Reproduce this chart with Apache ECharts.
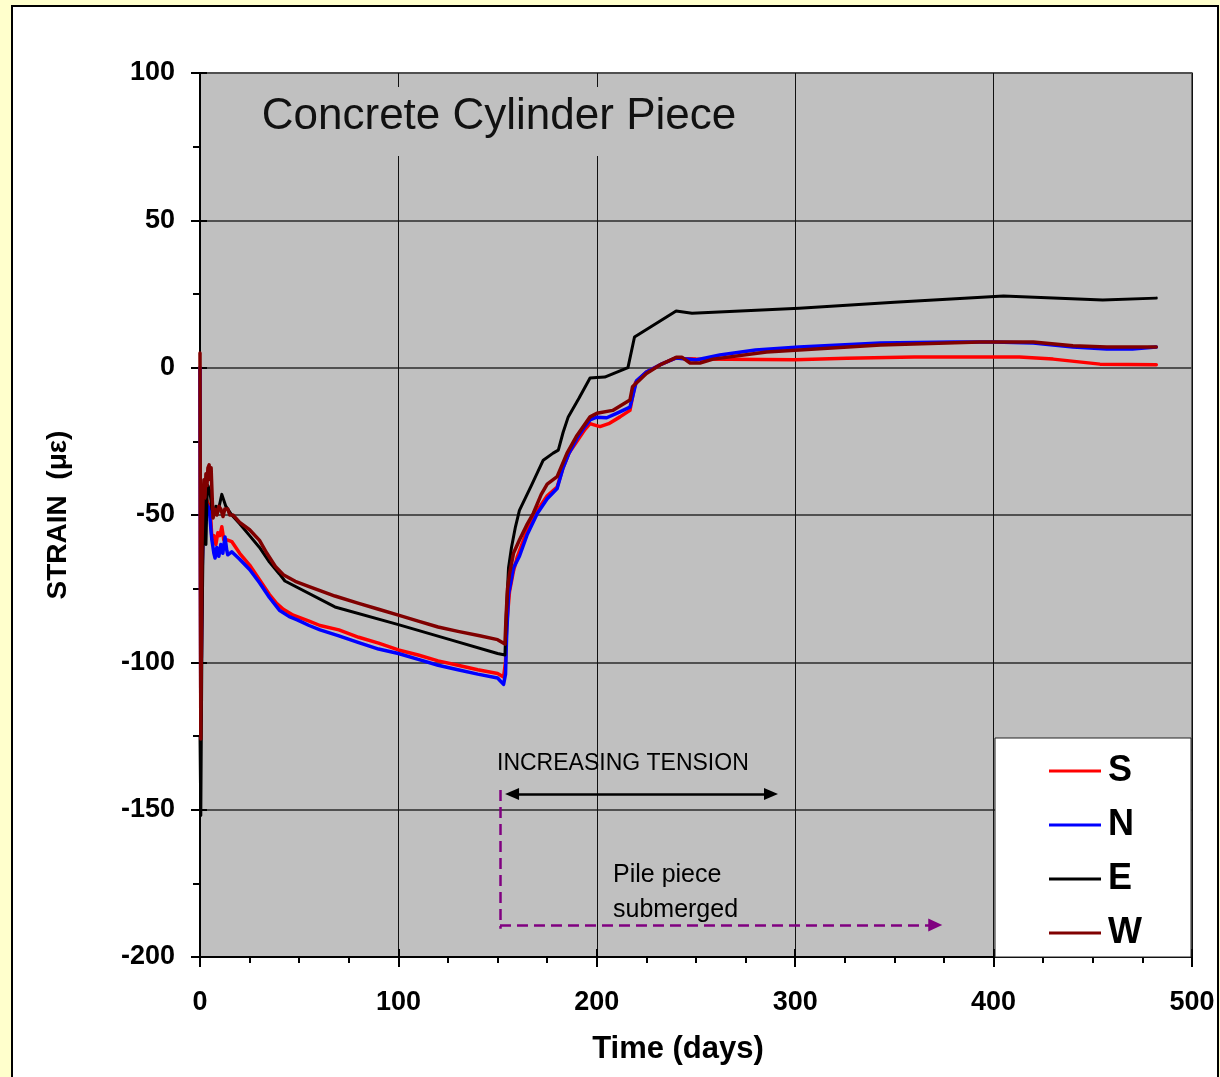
<!DOCTYPE html>
<html>
<head>
<meta charset="utf-8">
<script src="https://cdn.jsdelivr.net/npm/echarts@6/dist/echarts.min.js"></script>
<style>
html, body { margin: 0; padding: 0; background: #FFFFCC; width: 1220px; height: 1077px; overflow: hidden; }
#frame { position: absolute; left: 11px; top: 5px; width: 1204px; height: 1100px; border: 2px solid #000; background: #fff; }
#chart { position: absolute; left: 0; top: 0; width: 1220px; height: 1077px; }
</style>
</head>
<body>
<div id="frame"></div>
<div id="chart"></div>
<script>
// Strain gauge readings, [day, microstrain]
const seriesNames = ['S', 'N', 'E', 'W'];
const seriesColors = ['#FF0000', '#0000FF', '#000000', '#800000'];

const strainS = [
  [0, 0], [0.4, -118], [1, -70], [1.5, -55], [2, -48], [3, -44], [4, -46], [5, -47], [5.5, -52], [6, -58],
  [7, -57], [8, -60], [9, -56], [10, -57], [11, -54], [11.5, -54], [12, -58.5], [14, -58.5], [16, -59],
  [20, -63], [25, -67], [30, -72], [35, -77], [38.6, -80], [42, -82], [47, -84], [55, -86], [60.5, -87.5],
  [70, -89], [80, -91.5], [90, -93.5], [100, -95.8], [110, -97.5], [120, -99.5], [130, -101], [140, -102.5],
  [150, -103.8], [153, -105], [154, -100], [154.5, -88], [156, -76], [158, -69], [160, -64], [165, -55],
  [170, -48.5], [175, -43.5], [180, -40.5], [183, -34], [186, -29], [190, -25], [194, -21], [196.6, -19],
  [199, -19.5], [201.6, -20], [206, -19], [211.7, -16.7], [216.7, -14.5], [218, -10], [219.5, -5], [225, -1.5],
  [232, 1], [240, 3.3], [244, 3.1], [250, 2.9], [300, 2.7], [326, 3.2], [360, 3.6], [413, 3.6], [430, 2.9],
  [453.6, 1.2], [482, 1]
];

const strainN = [
  [0, 0], [0.4, -120], [1, -72], [1.5, -56], [2, -50], [3, -46], [4, -47], [4.7, -48], [5.5, -55], [6, -58.5],
  [7, -63], [7.6, -64.6], [8.5, -61], [9.5, -64], [10.5, -60], [11.5, -63], [12.6, -57.5], [13.5, -62], [14, -63.5],
  [16, -62.5], [20, -65], [25, -68.5], [30, -73], [35, -78], [40, -82.3], [45, -84.5], [49, -85.6], [55, -87.5],
  [60.5, -89], [70, -91], [80, -93.3], [90, -95.5], [100, -97], [110, -99], [120, -101], [130, -102.5],
  [140, -104], [150, -105.3], [153, -107.5], [154, -104], [154.5, -92], [155.5, -77], [158, -68], [161, -64],
  [165, -56.5], [170, -49.5], [175, -44.5], [180, -41], [183, -34], [186, -29], [190, -24], [194, -20],
  [196.6, -17.7], [200, -16.8], [205, -17], [210, -15.5], [216.7, -13.4], [218, -10], [220, -4.5], [225, -1.5],
  [232, 1], [240, 3.3], [244, 3], [250, 2.6], [262, 4.3], [280, 6], [302, 7], [343, 8.4], [380, 8.7],
  [400, 8.7], [420, 8.4], [440, 7], [457, 6.3], [470, 6.3], [482, 7]
];

const strainE = [
  [0, -125], [0.4, -152], [1, -90], [1.5, -62], [2, -45], [2.5, -55], [3, -60], [3.5, -45], [4, -40], [5, -42],
  [6, -48], [7, -50], [8, -47], [9, -49], [10, -46], [11, -43], [12, -42.5], [13, -47], [14, -48], [16, -50],
  [20, -53], [25, -57], [30, -61], [35, -66], [40, -70], [42.8, -72.4], [68, -81.2], [100, -87.2], [126, -92.3],
  [150, -97], [153.7, -97.5], [154.5, -82], [155.5, -68], [157, -61], [159, -54], [161, -48.4], [167, -40],
  [173, -31.4], [178, -29], [180.6, -28], [183, -22], [185.6, -16.7], [191, -10.4], [196.6, -3.5], [200, -3.3],
  [204, -3.2], [215.7, 0], [219, 10.4], [240, 19.2], [248, 18.5], [302, 20.2], [350, 22.2], [405, 24.3],
  [455, 23], [482, 23.6]
];

const strainW = [
  [0, 5], [0.4, -126], [1, -60], [1.5, -45], [2, -38], [2.5, -44], [3, -36], [3.5, -40], [4, -34], [4.6, -33],
  [5.2, -38], [5.6, -34], [6.2, -45], [6.6, -51], [7.5, -48], [8.5, -50], [9.5, -47], [10.5, -48], [11.6, -50.5],
  [12.5, -48], [14, -48], [15, -50], [16.6, -50], [20, -52.5], [25, -55], [30, -58.6], [33.7, -63], [38, -67.5],
  [42, -70.3], [48, -72.5], [55, -74.3], [60.5, -75.7], [68, -77.5], [80, -80], [90, -82], [100, -84], [110, -86],
  [120, -88], [130, -89.5], [141, -91], [150, -92.3], [153.7, -93.8], [154.3, -84], [155, -75], [156, -70],
  [158, -63], [161, -58.5], [165, -53], [168, -49.4], [172, -43], [175, -39.5], [180, -37], [185, -29], [190, -23],
  [196.6, -16.7], [200, -15.5], [208, -14.5], [216.7, -11], [218, -6.5], [225, -2], [232, 1], [240, 3.5],
  [243, 3.5], [247, 1.6], [252, 1.6], [258.6, 2.9], [285.6, 5.3], [302, 6], [343, 7.7], [393, 8.7], [420, 8.7],
  [440, 7.4], [457, 7], [482, 7]
];

// Annotation spans (days / microstrain); coords are arrowhead centres
const tensionSpan = [157.3, 287.8];
const tensionArrowY = -144.7;
const submergedDay = 151.2;
const submergedLine = [-143.3, -190.4];
const submergedArrowY = -189.1;
const submergedArrowEnd = 370.6;

const xTicks = { min: 0, max: 500, interval: 100 };
const yTicks = { min: -200, max: 100, interval: 50 };

const FONT = '"Liberation Sans", Arial, sans-serif';
const chart = echarts.init(document.getElementById('chart'), null, { renderer: 'canvas' });

const dataSets = [strainS, strainN, strainE, strainW];
const lineWidths = [3.5, 3.5, 3, 3.5];

const series = seriesNames.map((name, i) => ({
  name: name,
  type: 'line',
  data: dataSets[i],
  symbol: 'none',
  showSymbol: false,
  lineStyle: { color: seriesColors[i], width: lineWidths[i], join: 'round', cap: 'round' },
  itemStyle: { color: seriesColors[i] },
  emphasis: { disabled: true },
  z: 3 + i
}));

// double-headed tension arrow
series.push({
  name: 'tension', type: 'line', data: [], silent: true, z: 8,
  markLine: {
    silent: true, animation: false,
    symbol: ['triangle', 'triangle'], symbolSize: [12, 14],
    label: { show: false },
    emphasis: { disabled: true },
    lineStyle: { color: '#000', width: 2.5, type: 'solid' },
    data: [[{ coord: [tensionSpan[0], tensionArrowY] }, { coord: [tensionSpan[1], tensionArrowY] }]]
  }
});

// dashed submersion marker
series.push({
  name: 'submerged', type: 'line', data: [], silent: true, z: 8,
  markLine: {
    silent: true, animation: false,
    symbolSize: [13, 14],
    label: { show: false },
    emphasis: { disabled: true },
    lineStyle: { color: '#800080', width: 2.5, type: [11, 6] },
    data: [
      [{ coord: [submergedDay, submergedLine[0]], symbol: 'none' }, { coord: [submergedDay, submergedLine[1]], symbol: 'none' }],
      [{ coord: [submergedDay, submergedArrowY], symbol: 'none' }, { coord: [submergedArrowEnd, submergedArrowY], symbol: 'triangle' }]
    ]
  }
});

const tickStyle = { color: '#000', width: 2 };

const option = {
  animation: false,
  backgroundColor: 'transparent',
  grid: {
    left: 200, top: 73, right: 28, bottom: 120,
    show: true, backgroundColor: '#C0C0C0', borderColor: '#404040', borderWidth: 1.5
  },
  xAxis: [{
    type: 'value', min: xTicks.min, max: xTicks.max, interval: xTicks.interval,
    name: 'Time (days)', nameLocation: 'middle', nameGap: 77,
    nameTextStyle: { fontFamily: FONT, fontSize: 31, fontWeight: 'bold', color: '#000', padding: [0, 36, 0, 0] },
    axisLine: { show: true, onZero: false, lineStyle: { color: '#000', width: 2 } },
    axisTick: { show: true, length: 10, lineStyle: tickStyle },
    minorTick: { show: true, splitNumber: 4, length: 6, lineStyle: tickStyle },
    axisLabel: { fontFamily: FONT, fontSize: 27, fontWeight: 'bold', color: '#000', margin: 32, showMinLabel: true, showMaxLabel: true },
    splitLine: { show: true, lineStyle: { color: '#111', width: 1 } }
  }, {
    // inner half of the crossing major ticks
    type: 'value', position: 'bottom', min: xTicks.min, max: xTicks.max, interval: xTicks.interval,
    axisLine: { show: false, onZero: false },
    axisTick: { show: true, inside: true, length: 8, lineStyle: tickStyle },
    axisLabel: { show: false }, splitLine: { show: false }
  }],
  yAxis: [{
    type: 'value', min: yTicks.min, max: yTicks.max, interval: yTicks.interval,
    name: 'STRAIN  (με)', nameLocation: 'middle', nameGap: 128,
    nameTextStyle: { fontFamily: FONT, fontSize: 28, fontWeight: 'bold', color: '#000' },
    axisLine: { show: true, onZero: false, lineStyle: { color: '#000', width: 2 } },
    axisTick: { show: true, length: 9, lineStyle: tickStyle },
    minorTick: { show: true, splitNumber: 2, length: 7, lineStyle: tickStyle },
    axisLabel: { fontFamily: FONT, fontSize: 27, fontWeight: 'bold', color: '#000', margin: 25 },
    splitLine: { show: true, lineStyle: { color: '#505050', width: 2 } }
  }, {
    type: 'value', position: 'left', min: yTicks.min, max: yTicks.max, interval: yTicks.interval,
    axisLine: { show: false, onZero: false },
    axisTick: { show: true, inside: true, length: 7, lineStyle: tickStyle },
    axisLabel: { show: false }, splitLine: { show: false }
  }],
  legend: {
    data: seriesNames, orient: 'vertical', left: 1049, top: 753, z: 20, padding: 0,
    icon: 'rect', itemWidth: 52, itemHeight: 3, itemGap: 18, selectedMode: false,
    textStyle: { fontFamily: FONT, fontSize: 36, fontWeight: 'bold', color: '#000', lineHeight: 36, padding: [0, 0, 0, 2] }
  },
  graphic: [
    { type: 'rect', z: 10, silent: true, shape: { x: 252, y: 87, width: 494, height: 69 }, style: { fill: '#C0C0C0' } },
    { type: 'text', z: 11, silent: true, x: 499, y: 117,
      style: { text: 'Concrete Cylinder Piece', font: 'normal 44px ' + FONT, fill: '#111', textAlign: 'center', textVerticalAlign: 'middle' } },
    { type: 'rect', z: 10, silent: true, shape: { x: 995, y: 738, width: 196, height: 219 }, style: { fill: '#fff', stroke: '#222', lineWidth: 1 } },
    { type: 'text', z: 11, silent: true, x: 497, y: 764,
      style: { text: 'INCREASING TENSION', font: 'normal 23px ' + FONT, fill: '#000', textAlign: 'left', textVerticalAlign: 'middle' } },
    { type: 'text', z: 11, silent: true, x: 613, y: 875,
      style: { text: 'Pile piece', font: 'normal 25px ' + FONT, fill: '#000', textAlign: 'left', textVerticalAlign: 'middle' } },
    { type: 'text', z: 11, silent: true, x: 613, y: 910,
      style: { text: 'submerged', font: 'normal 25px ' + FONT, fill: '#000', textAlign: 'left', textVerticalAlign: 'middle' } }
  ],
  series: series
};

chart.setOption(option);
</script>
</body>
</html>
